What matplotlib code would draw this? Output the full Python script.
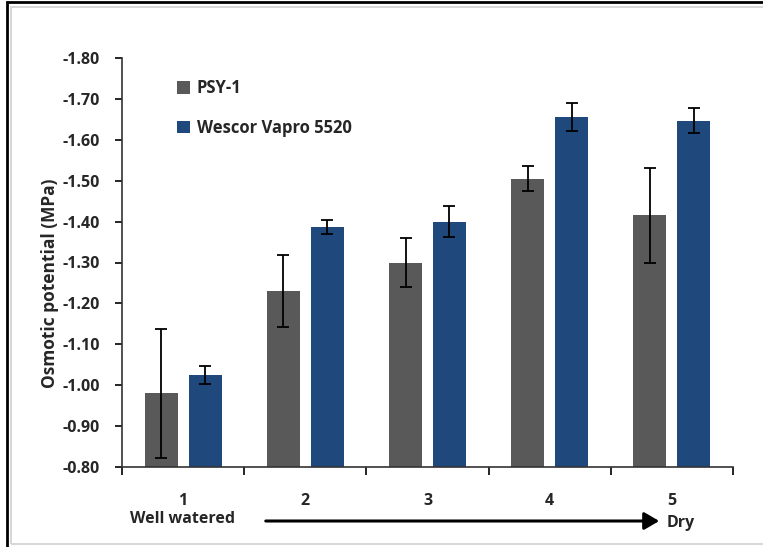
import numpy as np
import matplotlib
matplotlib.use("Agg")
import matplotlib.pyplot as plt
from matplotlib.patches import Rectangle, FancyArrowPatch

# Data
stages = ["1", "2", "3", "4", "5"]
psy1 = [-0.98, -1.23, -1.30, -1.505, -1.415]
psy1_err = [0.157, 0.088, 0.06, 0.031, 0.117]
wescor = [-1.025, -1.387, -1.40, -1.656, -1.647]
wescor_err = [0.023, 0.018, 0.038, 0.034, 0.030]
y_ticks = [-0.80, -0.90, -1.00, -1.10, -1.20, -1.30, -1.40, -1.50, -1.60, -1.70, -1.80]

GRAY = "#595959"
BLUE = "#1F497D"
TXT = "#262626"

plt.rcParams["font.family"] = ["Open Sans", "DejaVu Sans"]
plt.rcParams["font.weight"] = "bold"

fig = plt.figure(figsize=(7.63, 5.47), dpi=100)
ax = fig.add_axes([122 / 763, 1 - 467 / 547, (733 - 122) / 763, (467 - 58) / 547])

# frame round the picture, like the screenshot
fig.patches.append(Rectangle((6.5 / 763, -0.01), 1.1, 1 - 1.5 / 547 + 0.01,
                             transform=fig.transFigure, fill=False,
                             edgecolor="black", linewidth=2))
fig.patches.append(Rectangle((11 / 763, 1 - 544 / 547), 1.1, (544 - 7) / 547,
                             transform=fig.transFigure, fill=False,
                             edgecolor="#d0d0d0", linewidth=1.2))

x = np.arange(1, len(stages) + 1)
base = -0.80
w = 0.27
off = 0.18
err_kw = dict(ecolor="black", elinewidth=1.3, capsize=4, capthick=1.3)

ax.bar(x - off, np.array(psy1) - base, width=w, bottom=base, color=GRAY,
       yerr=psy1_err, error_kw=err_kw, label="PSY-1")
ax.bar(x + off, np.array(wescor) - base, width=w, bottom=base, color=BLUE,
       yerr=wescor_err, error_kw=err_kw, label="Wescor Vapro 5520")

ax.set_ylim(-0.80, -1.80)
ax.set_xlim(0.5, len(stages) + 0.5)
ax.set_yticks(y_ticks)
ax.set_yticklabels([f"{v:.2f}" for v in y_ticks], fontsize=11.5,
                   fontweight="bold", color=TXT)

ax.set_xticks(np.arange(0.5, len(stages) + 1, 1.0))
ax.set_xticklabels([])
ax.set_xticks(x, minor=True)
ax.set_xticklabels(stages, minor=True, fontsize=11.5, fontweight="bold", color=TXT)
ax.tick_params(axis="x", which="major", direction="out", length=6, width=1.2)
ax.tick_params(axis="x", which="minor", length=0, pad=19)
ax.tick_params(axis="y", direction="out", length=5, width=1.2, pad=11)

for s in ["top", "right"]:
    ax.spines[s].set_visible(False)
for s in ["left", "bottom"]:
    ax.spines[s].set_linewidth(1.2)
    ax.spines[s].set_color("#333333")

fig.text(50 / 763, 1 - 283 / 547, "Osmotic potential (MPa)", rotation=90,
         ha="center", va="center", fontsize=12.5, fontweight="bold", color=TXT)

leg = ax.legend(loc="upper left", bbox_to_anchor=(0.065, 0.985), frameon=False,
                handlelength=0.8, handleheight=0.8, handletextpad=0.4,
                labelspacing=1.3, prop={"weight": "bold", "size": 12})
for t in leg.get_texts():
    t.set_color(TXT)

# drying direction arrow under the axis
fig.text(130 / 763, 1 - 519 / 547, "Well watered", ha="left", va="center",
         fontsize=11.5, fontweight="bold", color=TXT)
fig.text(667 / 763, 1 - 523 / 547, "Dry", ha="left", va="center",
         fontsize=11.5, fontweight="bold", color=TXT)
fig.add_artist(FancyArrowPatch(
    (263 / 763, 1 - 521 / 547), (662 / 763, 1 - 521 / 547),
    transform=fig.transFigure, arrowstyle="-|>,head_length=6,head_width=3.5",
    color="black", linewidth=2.2, mutation_scale=1.5))

fig.savefig("out.png", dpi=100)
